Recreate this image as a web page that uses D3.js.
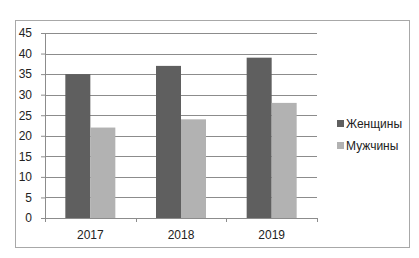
<!DOCTYPE html>
<html>
<head>
<meta charset="utf-8">
<script src="https://cdn.jsdelivr.net/npm/d3@7"></script>
<style>
  body { margin: 0; background: #fff; }
  text { font-family: "Liberation Sans", Arial, sans-serif; fill: #222; }
</style>
</head>
<body>
<div id="chart"></div>
<script>
const years = ["2017", "2018", "2019"];
const seriesNames = ["Женщины", "Мужчины"];
const women = [35, 37, 39];
const men = [22, 24, 28];
const seriesColors = ["#5f5f5f", "#b2b2b2"];
const yTicks = [0, 5, 10, 15, 20, 25, 30, 35, 40, 45];

let width = 419;
let height = 258;
let margin = { top: 33, right: 102, bottom: 40, left: 45 };

const svg = d3.select("#chart")
    .append("svg")
    .attr("width", width)
    .attr("height", height);

// рамка
svg.append("rect")
    .attr("x", 15.5)
    .attr("y", 20.5)
    .attr("width", 394)
    .attr("height", 227)
    .attr("fill", "none")
    .attr("stroke", "#a8a8a8");

const innerWidth = width - margin.left - margin.right;
const innerHeight = 218 - margin.top;

const g = svg.append("g")
    .attr("transform", `translate(${margin.left}, ${margin.top})`);

const x = d3.scaleBand()
    .domain(years)
    .range([0, innerWidth]);

const xInner = d3.scaleBand()
    .domain(seriesNames)
    .range([x.bandwidth() / 2 - 25, x.bandwidth() / 2 + 25]);

const y = d3.scaleLinear()
    .domain([0, 45])
    .range([innerHeight, 0]);

// сетка
g.append("g")
    .selectAll("line")
    .data(yTicks.filter(d => d > 0))
    .join("line")
    .attr("x1", 0)
    .attr("x2", innerWidth)
    .attr("y1", d => Math.round(y(d)) + 0.5)
    .attr("y2", d => Math.round(y(d)) + 0.5)
    .attr("stroke", "#8c8c8c");

// ось Y
const yAxis = g.append("g")
    .call(d3.axisLeft(y).tickValues(yTicks).tickSize(4).tickPadding(6));
yAxis.select(".domain").attr("stroke", "#8c8c8c");
yAxis.selectAll(".tick line").attr("stroke", "#8c8c8c");
yAxis.selectAll(".tick text")
    .attr("font-size", 12)
    .attr("fill", "#222")
    .attr("dx", -3);

// столбцы
const data = years.map((yr, i) => ({ year: yr, values: [women[i], men[i]] }));

g.append("g")
    .selectAll("g")
    .data(data)
    .join("g")
    .attr("transform", d => `translate(${x(d.year)}, 0)`)
    .selectAll("rect")
    .data(d => d.values.map((v, j) => ({ name: seriesNames[j], value: v, color: seriesColors[j] })))
    .join("rect")
    .attr("x", d => xInner(d.name))
    .attr("width", xInner.bandwidth())
    .attr("y", d => y(d.value))
    .attr("height", d => innerHeight - y(d.value))
    .attr("fill", d => d.color);

// ось X
const xAxis = g.append("g")
    .attr("transform", `translate(0, ${innerHeight})`)
    .call(d3.axisBottom(x).tickSize(0).tickPadding(12));
xAxis.select(".domain").attr("stroke", "#8c8c8c");
xAxis.selectAll(".tick text")
    .attr("font-size", 12)
    .attr("fill", "#222");

// деления между категориями
g.append("g")
    .selectAll("line")
    .data(d3.range(years.length + 1))
    .join("line")
    .attr("x1", i => Math.round(i * x.step()) + 0.5)
    .attr("x2", i => Math.round(i * x.step()) + 0.5)
    .attr("y1", innerHeight)
    .attr("y2", innerHeight + 4)
    .attr("stroke", "#8c8c8c");

// легенда
const legend = svg.append("g")
    .attr("transform", "translate(337, 120)");

const item = legend.selectAll("g")
    .data(seriesNames)
    .join("g")
    .attr("transform", (d, i) => `translate(0, ${i * 22})`);

item.append("rect")
    .attr("width", 7)
    .attr("height", 7)
    .attr("fill", (d, i) => seriesColors[i]);

item.append("text")
    .attr("x", 9)
    .attr("y", 7.5)
    .attr("font-size", 12)
    .text(d => d);
</script>
</body>
</html>
